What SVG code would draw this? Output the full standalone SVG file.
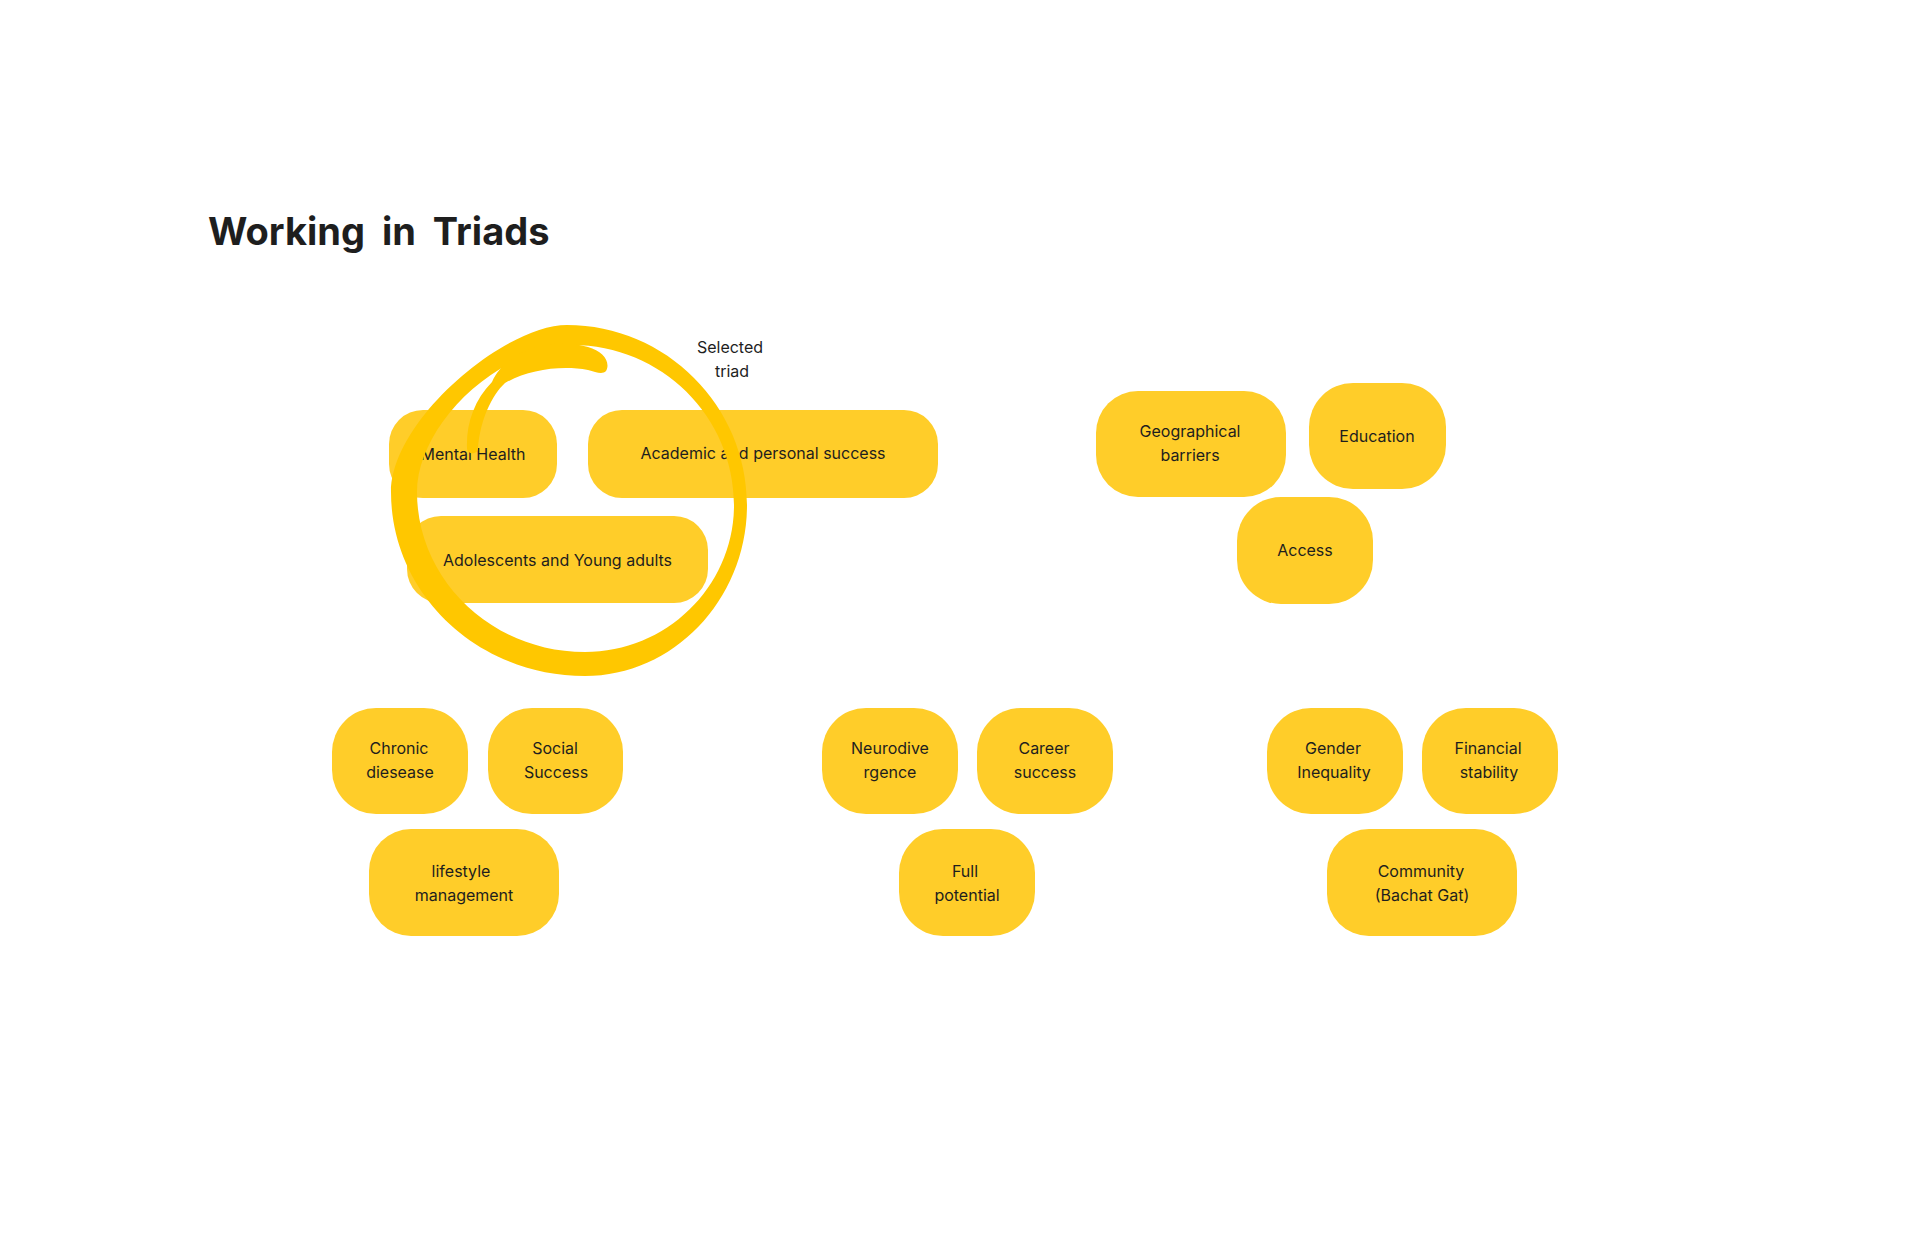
<svg xmlns="http://www.w3.org/2000/svg" width="1912" height="1256" viewBox="0 0 1912 1256">
<style>
.node rect { fill: #FFCD29; }
.node text, .label { font-family: Inter, "Noto Sans", "Liberation Sans", sans-serif; font-size: 16px; fill: #1E1E1E; text-anchor: middle; }
.title { font-family: Inter, "Noto Sans", "Liberation Sans", sans-serif; font-size: 38px; font-weight: 700; fill: #1E1E1E; word-spacing: 8px; }
.mark { fill: #FFC700; }
</style>
<rect width="1912" height="1256" fill="#FFFFFF"/>
<text class="title" x="208" y="245">Working in Triads</text>

<g id="nodes">
  <g id="n-mental-health" class="node"><rect x="389" y="410" width="168" height="88" rx="34"/><text x="473" y="460">Mental Health</text></g>
  <g id="n-academic" class="node"><rect x="588" y="410" width="350" height="88" rx="34"/><text x="763" y="459">Academic and personal success</text></g>
  <g id="n-adolescents" class="node"><rect x="407" y="516" width="301" height="87" rx="34"/><text x="557.5" y="566">Adolescents and Young adults</text></g>

  <g id="n-geographical" class="node"><rect x="1096" y="391" width="190" height="106" rx="42"/><text x="1190" y="437">Geographical</text><text x="1190" y="461">barriers</text></g>
  <g id="n-education" class="node"><rect x="1309" y="383" width="137" height="106" rx="44"/><text x="1377" y="442">Education</text></g>
  <g id="n-access" class="node"><rect x="1237" y="497" width="136" height="107" rx="44"/><text x="1305" y="556">Access</text></g>

  <g id="n-chronic" class="node"><rect x="332" y="708" width="136" height="106" rx="44"/><text x="399" y="754">Chronic</text><text x="400" y="778">diesease</text></g>
  <g id="n-social" class="node"><rect x="488" y="708" width="135" height="106" rx="44"/><text x="555" y="754">Social</text><text x="556" y="778">Success</text></g>
  <g id="n-lifestyle" class="node"><rect x="369" y="829" width="190" height="107" rx="42"/><text x="461" y="877">lifestyle</text><text x="464" y="901">management</text></g>

  <g id="n-neuro" class="node"><rect x="822" y="708" width="136" height="106" rx="44"/><text x="890" y="754">Neurodive</text><text x="890" y="778">rgence</text></g>
  <g id="n-career" class="node"><rect x="977" y="708" width="136" height="106" rx="44"/><text x="1044" y="754">Career</text><text x="1045" y="778">success</text></g>
  <g id="n-full" class="node"><rect x="899" y="829" width="136" height="107" rx="44"/><text x="965" y="877">Full</text><text x="967" y="901">potential</text></g>

  <g id="n-gender" class="node"><rect x="1267" y="708" width="136" height="106" rx="44"/><text x="1333" y="754">Gender</text><text x="1334" y="778">Inequality</text></g>
  <g id="n-financial" class="node"><rect x="1422" y="708" width="136" height="106" rx="44"/><text x="1488" y="754">Financial</text><text x="1489" y="778">stability</text></g>
  <g id="n-community" class="node"><rect x="1327" y="829" width="190" height="107" rx="42"/><text x="1421" y="877">Community</text><text x="1422" y="901">(Bachat Gat)</text></g>
</g>

<g id="connectors"></g>

<g id="selection-mark">
  <path class="mark" fill-rule="evenodd" d="M 567 325 C 666 325, 747 406, 747 505 C 747 599, 674 676, 585 676 C 478 676, 391 594, 391 492 C 391 420, 505 325, 567 325 Z M 572 345 C 661.5 345, 734 416.6, 734 505 C 734 586, 667 652, 585 652 C 492 652, 417 580, 417 492 C 417 430, 488 352, 572 345 Z"/>
  <path class="mark" d="M 467 448 C 466 425, 474 400, 492 382 C 505 352, 550 336, 588 347 C 603 351, 611 362, 606 371 C 602 375, 596 372, 588 370 C 560 365, 528 370, 505 383 C 492 395, 480 420, 478 448 C 478 455, 467 455, 467 448 Z"/>
</g>
<text class="label" x="730" y="353">Selected</text>
<text class="label" x="732" y="377">triad</text>
</svg>
